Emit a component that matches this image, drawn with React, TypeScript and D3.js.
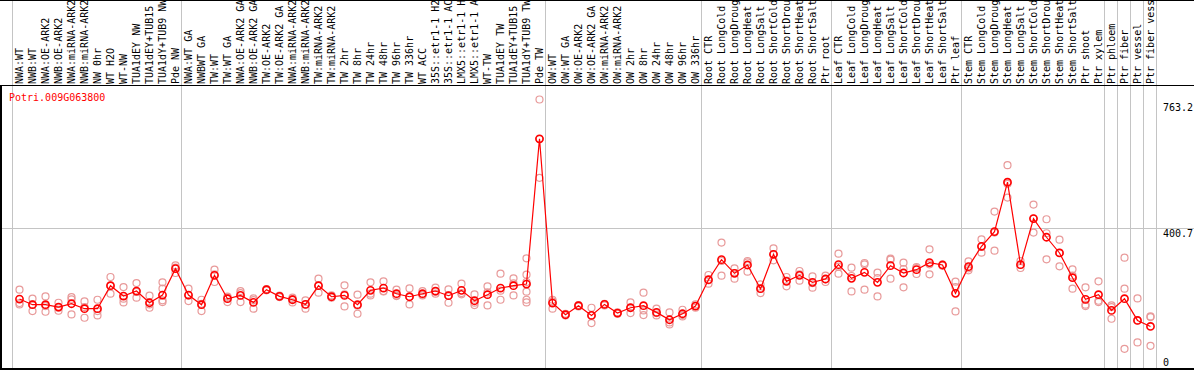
import React from "react";
import * as d3 from "d3";

const geneId = "Potri.009G063800";

const categories = [
  "NWA:WT", "NWB:WT", "NWA:OE-ARK2", "NWB:OE-ARK2", "NWA:miRNA-ARK2", "NWB:miRNA-ARK2",
  "NW 0hr", "WT H2O", "WT-NW", "TUA1dEY NW", "TUA1dEY+TUB15 NW", "TUA1dY+TUB9 NW", "Pde NW",
  "NWA:WT GA", "NWBWT GA", "TW:WT", "TW:WT GA", "NWA:OE-ARK2 GA", "NWB:OE-ARK2 GA",
  "TW:OE-ARK2", "TW:OE-ARK2 GA", "NWA:miRNA-ARK2", "NWB:miRNA-ARK2", "TW:miRNA-ARK2",
  "TW:miRNA-ARK2", "TW 2hr", "TW 8hr", "TW 24hr", "TW 48hr", "TW 96hr", "TW 336hr",
  "WT ACC", "35S::etr1-1 H2O", "35S::etr1-1 ACC", "LMX5::etr1-1 H2O", "LMX5::etr1-1 ACC",
  "WT-TW", "TUA1dEY TW", "TUA1dEY+TUB15 TW", "TUA1dY+TUB9 TW", "Pde TW",
  "OW:WT", "OW:WT GA", "OW:OE-ARK2", "OW:OE-ARK2 GA", "OW:miRNA-ARK2", "OW:miRNA-ARK2",
  "OW 2hr", "OW 8hr", "OW 24hr", "OW 48hr", "OW 96hr", "OW 336hr",
  "Root CTR", "Root LongCold", "Root LongDrought", "Root LongHeat", "Root LongSalt",
  "Root ShortCold", "Root ShortDrought", "Root ShortHeat", "Root ShortSalt", "Ptr root",
  "Leaf CTR", "Leaf LongCold", "Leaf LongDrought", "Leaf LongHeat", "Leaf LongSalt",
  "Leaf ShortCold", "Leaf ShortDrought", "Leaf ShortHeat", "Leaf ShortSalt", "Ptr leaf",
  "Stem CTR", "Stem LongCold", "Stem LongDrought", "Stem LongHeat", "Stem LongSalt",
  "Stem ShortCold", "Stem ShortDrought", "Stem ShortHeat", "Stem ShortSalt",
  "Ptr shoot", "Ptr xylem", "Ptr phloem", "Ptr fiber", "Ptr vessel", "Ptr fiber vessel",
];

// index of the first category of each group (group separators)
const groupStarts = [0, 13, 41, 53, 63, 73, 84, 85, 86, 87, 88];

const meanValues = [
  199.1, 183.1, 183.1, 176.5, 185.9, 171.8, 171.8, 236.9, 207.6, 221.8,
  188.7, 210.5, 285.0, 210.5, 183.1, 266.2, 200.1, 209.5, 189.7, 225.6,
  206.7, 197.2, 184.0, 236.9, 205.7, 209.5, 183.1, 223.7, 230.3, 214.2,
  205.7, 214.2, 221.8, 208.6, 223.7, 194.4, 211.4, 230.3, 236.9, 241.6,
  652.1, 187.8, 154.8, 180.3, 152.9, 184.0, 159.5, 174.6, 180.3, 161.4,
  140.6, 157.6, 179.3, 253.9, 310.5, 271.8, 295.4, 228.4, 325.6, 249.2,
  266.2, 246.3, 255.8, 296.4, 257.7, 274.6, 246.3, 293.5, 272.8, 282.2,
  302.0, 295.4, 215.2, 290.7, 348.3, 389.8, 529.5, 296.4, 426.6, 373.8,
  329.4, 259.5, 198.2, 211.4, 167.0, 200.1, 138.7, 121.7,
];

const replicateValues = [
  [225.6, 188.0, 184.0], [200.1, 184.0, 165.2], [206.7, 179.3, 163.3], [188.7, 174.6, 166.1],
  [204.8, 198.2, 155.7], [192.5, 176.5, 146.3], [197.2, 165.2, 152.9], [261.4, 236.9, 214.2],
  [233.1, 200.1, 189.7], [244.4, 219.0, 202.9], [208.6, 184.0, 174.6], [246.3, 228.4, 195.4, 190.6],
  [294.5, 287.9, 272.8], [228.4, 209.5, 193.5], [197.2, 185.9, 165.2], [282.2, 269.0, 247.3],
  [206.0, 203.0, 190.6], [221.8, 216.1, 190.6], [201.0, 196.3, 171.8], [227.5, 225.6, 223.7],
  [208.6, 206.7, 204.8], [202.9, 199.1, 189.7], [195.4, 184.0, 171.8], [256.7, 236.9, 217.1],
  [209.5, 204.8, 202.9], [237.8, 212.3, 178.4], [211.4, 180.3, 157.6], [246.3, 214.2, 209.5],
  [249.2, 221.8, 220.8], [225.6, 209.5, 207.6], [229.3, 204.8, 184.0], [221.8, 211.4, 209.5],
  [231.2, 219.9, 214.2], [226.5, 209.5, 188.7], [242.6, 216.0, 212.4], [212.3, 188.7, 182.1],
  [235.0, 218.0, 181.2], [270.9, 222.7, 197.2], [257.7, 243.5, 209.5],
  [314.3, 268.0, 247.3, 219.9, 197.2, 189.7],
  [763.2, 651.3, 541.7], [197.2, 192.5, 171.8], [157.6, 154.8, 152.9], [182.1, 180.3, 178.4],
  [174.6, 152.9, 131.2], [185.9, 184.0, 181.2], [161.4, 159.5, 157.6], [189.7, 174.6, 159.5],
  [217.1, 167.0, 153.8], [171.8, 159.5, 152.9], [161.4, 133.1, 127.4], [168.9, 153.8, 150.1],
  [184.0, 179.3, 174.6], [267.1, 252.0, 242.6], [358.7, 306.7, 265.2], [286.0, 272.8, 256.7],
  [306.7, 303.0, 276.5], [240.7, 228.4, 216.1], [342.6, 325.6, 308.6], [261.4, 251.0, 235.0],
  [278.4, 269.0, 251.0], [263.3, 244.4, 231.2], [265.2, 254.8, 247.3], [327.5, 290.7, 270.9],
  [287.9, 264.3, 220.8], [301.1, 297.3, 225.6], [273.7, 258.6, 206.7], [313.3, 310.5, 256.7],
  [302.0, 284.1, 232.2], [289.8, 286.9, 269.9], [339.8, 297.3, 269.0], [296.4, 295.4, 293.5],
  [248.2, 233.1, 164.2], [305.8, 286.0, 280.3], [368.1, 346.4, 330.3], [446.4, 387.0, 336.0],
  [577.6, 524.8, 486.1], [306.7, 295.4, 286.9], [466.3, 426.6, 387.0], [424.7, 385.1, 311.5],
  [367.1, 329.4, 291.6], [283.1, 265.2, 228.4], [232.2, 183.1, 179.3], [249.2, 194.4, 190.6],
  [181.2, 176.5, 143.4], [316.2, 228.4, 58.5], [201.0, 138.7, 76.4], [150.1, 148.2, 67.0],
];

const maxValue = 763.2;
const yTickValues = [763.2, 400.7, 0];
const yTickLabels = ["763.2", "400.7", "0"];

const FONT = "'DejaVu Sans Mono', 'Liberation Mono', monospace";

export default function App() {
  const W = 1194;
  const H = 370;
  const headerBottom = 85.5;
  const plotBottom = 369.5;
  const step = 13;
  const x0 = 11.5;

  const xEdge = d3.scaleLinear().domain([0, categories.length]).range([x0, x0 + step * categories.length]);
  const cx = (i: number) => xEdge(i) + 8;
  const y = d3.scaleLinear().domain([0, maxValue * 1.05]).range([plotBottom, headerBottom + 0.5]);

  const line = d3.line<number>().x((_, i) => cx(i)).y((d) => y(d));

  const gridY = Math.round(y(maxValue * 1.05 / 2)) + 0.5;
  const tickDy = [11, 9, -4];

  return (
    <svg width={W} height={H} style={{ position: "absolute", left: 0, top: 0, background: "#fff" }}>
      <rect x={0} y={0} width={W} height={H} fill="#fff" />
      {/* vertical group separators */}
      {groupStarts.map((g) => (
        <line key={"g" + g} x1={Math.round(xEdge(g)) + 0.5} x2={Math.round(xEdge(g)) + 0.5} y1={0} y2={plotBottom}
          stroke="#c4c4c4" strokeWidth={1} />
      ))}
      {/* horizontal mid gridline */}
      <line x1={0} x2={W} y1={gridY} y2={gridY} stroke="#c4c4c4" strokeWidth={1} />
      {/* borders */}
      <line x1={0} x2={W} y1={0.5} y2={0.5} stroke="#000" strokeWidth={1} />
      <line x1={0} x2={W} y1={headerBottom} y2={headerBottom} stroke="#000" strokeWidth={1.2} />
      <line x1={0} x2={W} y1={369} y2={369} stroke="#000" strokeWidth={2} />
      <line x1={1} x2={1} y1={headerBottom} y2={370} stroke="#000" strokeWidth={2} />

      {/* header labels */}
      {categories.map((c, i) => (
        <text key={"l" + i} transform={`translate(${cx(i) + 3.2},84) rotate(-90)`} fontFamily={FONT}
          fontSize={10} fill="#000">{c}</text>
      ))}

      {/* gene id */}
      <text x={9} y={101} fontFamily={FONT} fontSize={10} fill="#ff0000">{geneId}</text>

      {/* y labels */}
      {yTickValues.map((v, i) => (
        <text key={"t" + i} x={1163} y={y(v) + tickDy[i]} fontFamily={FONT} fontSize={10} fill="#000">{yTickLabels[i]}</text>
      ))}

      {/* replicate points */}
      {replicateValues.map((reps, i) =>
        reps.map((v, j) => (
          <circle key={`r${i}_${j}`} cx={cx(i)} cy={y(v)} r={3.5} fill="none" stroke="#e89a9a" strokeWidth={1.2} />
        ))
      )}

      {/* mean line */}
      <path d={line(meanValues) || ""} fill="none" stroke="#ff0000" strokeWidth={1.2} />
      {meanValues.map((v, i) => (
        <circle key={"m" + i} cx={cx(i)} cy={y(v)} r={3.6} fill="none" stroke="#ff0000" strokeWidth={1.6} />
      ))}
    </svg>
  );
}
